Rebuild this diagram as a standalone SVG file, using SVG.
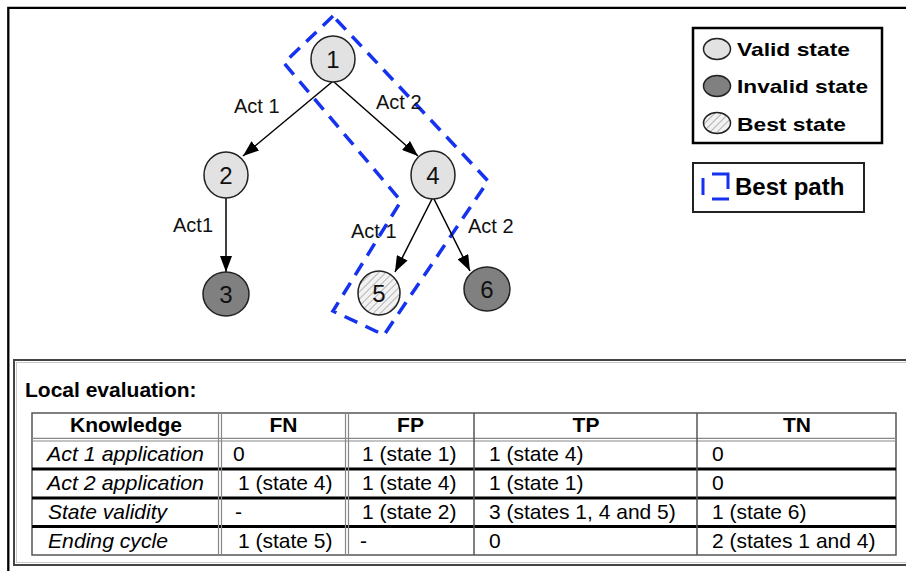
<svg xmlns="http://www.w3.org/2000/svg" width="906" height="571" viewBox="0 0 906 571">
<style>
  .node { stroke:#222; stroke-width:1.5; }
  .valid { fill:#e2e2e2; }
  .invalid { fill:#808080; }
  .best { fill:url(#hatch); }
  .num { font-family:"Liberation Sans", Arial, sans-serif; font-size:24px; fill:#111; text-anchor:middle; }
  .lbl { font-family:"Liberation Sans", Arial, sans-serif; font-size:20px; fill:#111; }
  .edge { stroke:#000; stroke-width:1.5; fill:none; marker-end:url(#arrow); }
  .leg { font-family:"Liberation Sans", Arial, sans-serif; font-size:19px; font-weight:bold; fill:#000; }
  .hdr { font-family:"Liberation Sans", Arial, sans-serif; font-size:21px; font-weight:bold; fill:#000; text-anchor:middle; }
  .cell { font-family:"Liberation Sans", Arial, sans-serif; font-size:21px; fill:#000; }
  .rowh { font-family:"Liberation Sans", Arial, sans-serif; font-size:21px; font-style:italic; fill:#000; }
  .thick { stroke:#000; stroke-width:3; }
  .dbl { stroke:#888; stroke-width:1.2; }
  .thin { stroke:#555; stroke-width:1.5; }
</style>
<defs>
  <marker id="arrow" viewBox="0 0 16 12" markerWidth="16" markerHeight="12" refX="16" refY="6" orient="auto" markerUnits="userSpaceOnUse">
    <path d="M0,0 L16,6 L0,12 Z" fill="#000"/>
  </marker>
  <pattern id="hatch" patternUnits="userSpaceOnUse" width="5" height="5" patternTransform="rotate(45)">
    <rect width="5" height="5" fill="#f2f2f2"/>
    <line x1="0" y1="0" x2="0" y2="5" stroke="#9a9a9a" stroke-width="1.4"/>
  </pattern>
</defs>
<rect width="906" height="571" fill="#fff"/>
<!-- outer frame -->
<path d="M8.3,571 V7.8 H906" fill="none" stroke="#000" stroke-width="2.3"/>

<!-- best path -->
<g id="best-path">
  <path d="M333,16 L284,63 L401,201 L333,311 L384,335 L488,181 Z" fill="none" stroke="#1432f0" stroke-width="3.5" stroke-dasharray="14 9"/>
</g>

<!-- connectors -->
<g id="connectors">
  <line class="edge" x1="332" y1="82" x2="243" y2="156"/>
  <line class="edge" x1="334" y1="82" x2="418" y2="156"/>
  <line class="edge" x1="226" y1="198" x2="226" y2="272"/>
  <line class="edge" x1="432" y1="199" x2="395" y2="272"/>
  <line class="edge" x1="434" y1="199" x2="470" y2="271"/>
  <text class="lbl" x="234" y="113">Act 1</text>
  <text class="lbl" x="376" y="109">Act 2</text>
  <text class="lbl" x="173" y="232">Act1</text>
  <text class="lbl" x="351" y="238">Act 1</text>
  <text class="lbl" x="468" y="233">Act 2</text>
</g>

<!-- nodes -->
<g id="node1"><ellipse class="node valid" cx="333" cy="59" rx="22" ry="23"/><text class="num" x="333" y="67.5">1</text></g>
<g id="node2"><ellipse class="node valid" cx="226" cy="175" rx="22" ry="23"/><text class="num" x="226" y="183.5">2</text></g>
<g id="node3"><ellipse class="node invalid" cx="226" cy="294" rx="23" ry="22"/><text class="num" x="226" y="302.5">3</text></g>
<g id="node4"><ellipse class="node valid" cx="433" cy="175" rx="22" ry="24"/><text class="num" x="433" y="183.5">4</text></g>
<g id="node5"><ellipse class="node best" cx="379" cy="293" rx="21" ry="22"/><text class="num" x="379" y="301.5">5</text></g>
<g id="node6"><ellipse class="node invalid" cx="487" cy="289" rx="23" ry="22"/><text class="num" x="487" y="297.5">6</text></g>

<!-- legend -->
<g id="legend-states">
  <rect x="693" y="28" width="189" height="115" fill="#fff" stroke="#000" stroke-width="2.5"/>
  <ellipse class="node valid" cx="717" cy="49" rx="13.5" ry="10.5"/>
  <text class="leg" x="737" y="56" textLength="113" lengthAdjust="spacingAndGlyphs">Valid state</text>
  <ellipse class="node invalid" cx="717" cy="86" rx="13.5" ry="10.5"/>
  <text class="leg" x="737" y="93" textLength="131" lengthAdjust="spacingAndGlyphs">Invalid state</text>
  <ellipse class="node best" cx="717" cy="123" rx="13.5" ry="10.5"/>
  <text class="leg" x="737" y="131" textLength="109" lengthAdjust="spacingAndGlyphs">Best state</text>
</g>
<g id="legend-path">
  <rect x="693" y="163" width="171" height="49" fill="#fff" stroke="#222" stroke-width="2"/>
  <path d="M703,178 V195 M712,174 H728 V189 M712,199 H729" fill="none" stroke="#1432f0" stroke-width="3"/>
  <text x="735" y="195" font-family="Liberation Sans, Arial, sans-serif" font-size="24" font-weight="bold" fill="#000">Best path</text>
</g>

<!-- local evaluation table -->
<g id="local-evaluation">
  <rect x="14" y="360" width="900" height="205" fill="none" stroke="#444" stroke-width="2"/>
  <rect x="16.5" y="362.5" width="900" height="200" fill="none" stroke="#c8c8c8" stroke-width="1"/>
  <text x="25" y="397" font-family="Liberation Sans, Arial, sans-serif" font-size="21" font-weight="bold" fill="#000">Local evaluation:</text>

  <rect x="32" y="413" width="864" height="142" fill="#fff" stroke="#555" stroke-width="1.5"/>
  <line class="dbl" x1="32" y1="438.3" x2="896" y2="438.3"/>
  <line class="dbl" x1="32" y1="441" x2="896" y2="441"/>
  <line class="thick" x1="32" y1="469" x2="896" y2="469"/>
  <line class="thick" x1="32" y1="498" x2="896" y2="498"/>
  <line class="thick" x1="32" y1="526.5" x2="896" y2="526.5"/>
  <line class="dbl" x1="218.5" y1="413" x2="218.5" y2="555"/>
  <line class="dbl" x1="221.5" y1="413" x2="221.5" y2="555"/>
  <line class="dbl" x1="345.5" y1="413" x2="345.5" y2="555"/>
  <line class="dbl" x1="348.5" y1="413" x2="348.5" y2="555"/>
  <line class="thin" x1="474" y1="413" x2="474" y2="555"/>
  <line class="thin" x1="697" y1="413" x2="697" y2="555"/>

  <text class="hdr" x="126" y="432">Knowledge</text>
  <text class="hdr" x="283.5" y="432">FN</text>
  <text class="hdr" x="410.5" y="432">FP</text>
  <text class="hdr" x="586" y="432">TP</text>
  <text class="hdr" x="797" y="432">TN</text>

  <text class="rowh" x="47" y="460.5" textLength="157" lengthAdjust="spacingAndGlyphs">Act 1 application</text>
  <text class="cell" x="233" y="460.5">0</text>
  <text class="cell" x="362" y="460.5">1 (state 1)</text>
  <text class="cell" x="489" y="460.5">1 (state 4)</text>
  <text class="cell" x="712" y="460.5">0</text>

  <text class="rowh" x="47" y="490" textLength="157" lengthAdjust="spacingAndGlyphs">Act 2 application</text>
  <text class="cell" x="238" y="490">1 (state 4)</text>
  <text class="cell" x="362" y="490">1 (state 4)</text>
  <text class="cell" x="489" y="490">1 (state 1)</text>
  <text class="cell" x="712" y="490">0</text>

  <text class="rowh" x="48" y="519" textLength="119" lengthAdjust="spacingAndGlyphs">State validity</text>
  <text class="cell" x="235" y="519">-</text>
  <text class="cell" x="362" y="519">1 (state 2)</text>
  <text class="cell" x="489" y="519">3 (states 1, 4 and 5)</text>
  <text class="cell" x="712" y="519">1 (state 6)</text>

  <text class="rowh" x="48" y="548" textLength="120" lengthAdjust="spacingAndGlyphs">Ending cycle</text>
  <text class="cell" x="238" y="548">1 (state 5)</text>
  <text class="cell" x="360" y="548">-</text>
  <text class="cell" x="489" y="548">0</text>
  <text class="cell" x="712" y="548">2 (states 1 and 4)</text>
</g>
</svg>
